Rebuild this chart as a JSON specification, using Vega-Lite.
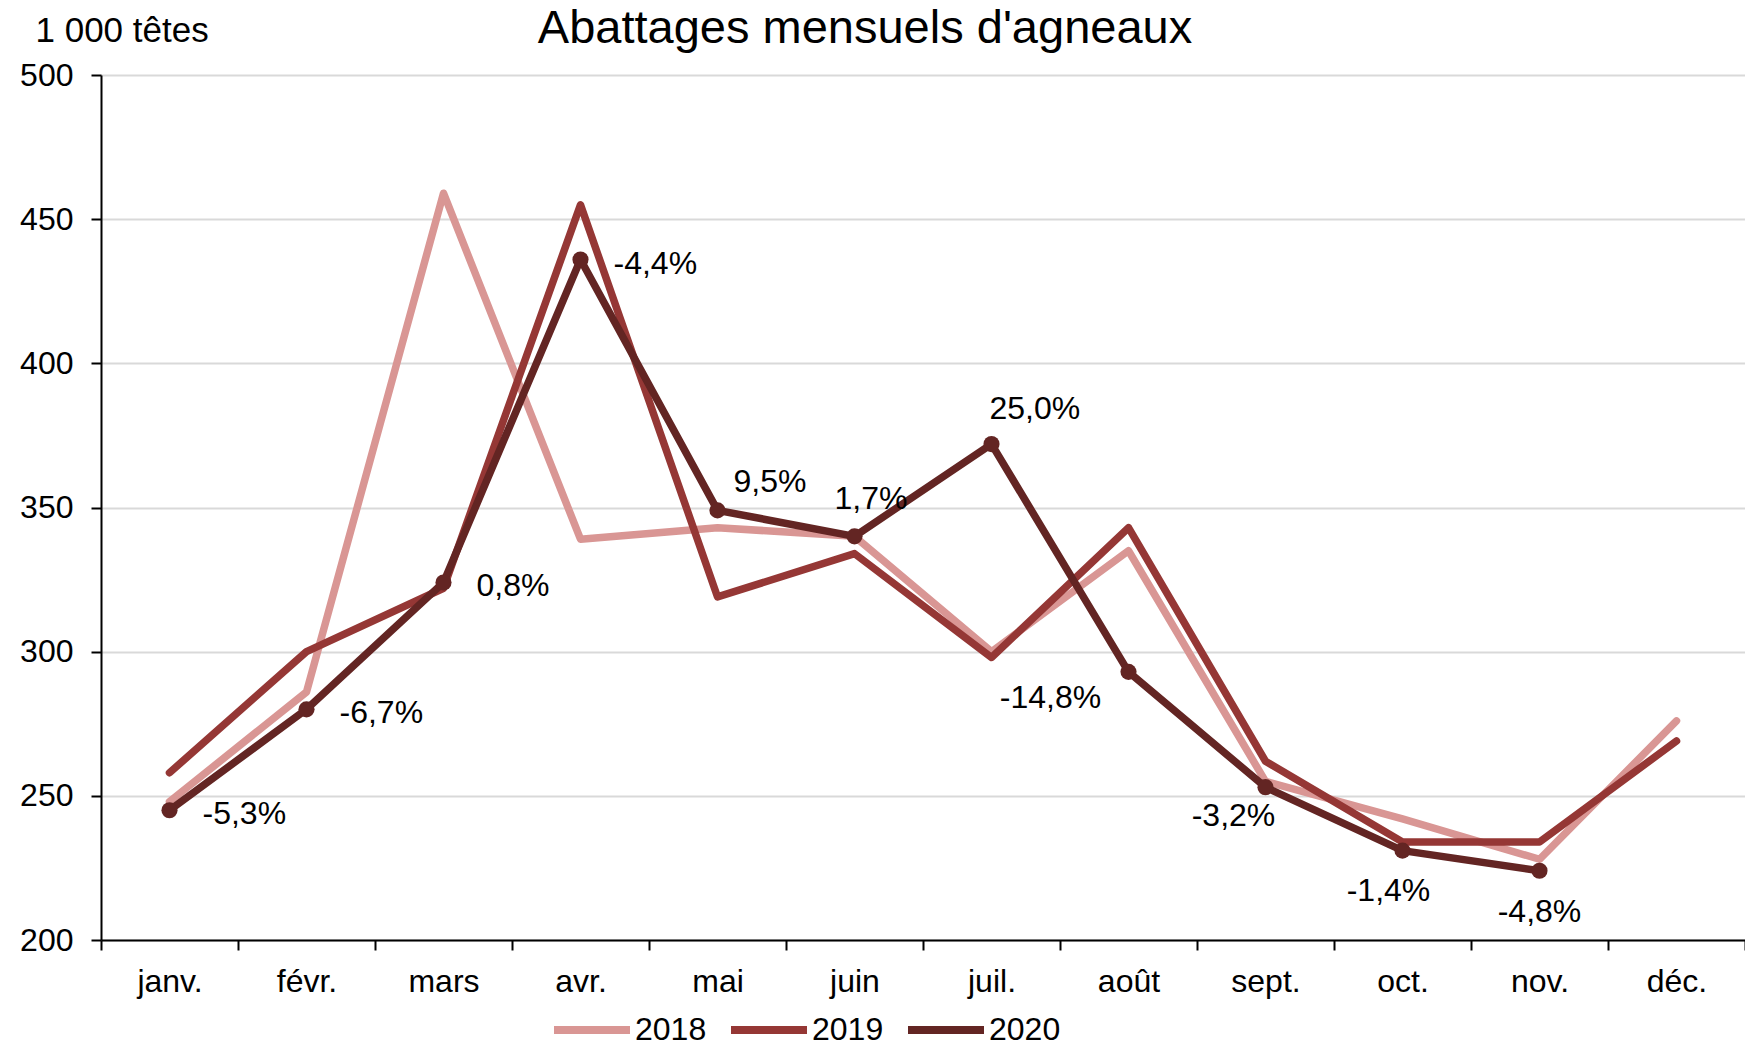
{
  "$schema": "https://vega.github.io/schema/vega-lite/v6.json",
  "autosize": {"type": "none"},
  "padding": {"left": 101, "top": 75, "right": 0, "bottom": 105},
  "width": 1644,
  "height": 865,
  "background": "white",
  "config": {"font": "Liberation Sans", "view": {"stroke": null}},
  "title": {"text": "Abattages mensuels d'agneaux", "fontSize": 47, "fontWeight": "normal", "color": "black", "anchor": "middle", "dx": -58, "offset": -40},
  "data": {"values": [
    {"mois": "janv.", "annee": "2018", "valeur": 248},
    {"mois": "févr.", "annee": "2018", "valeur": 286},
    {"mois": "mars", "annee": "2018", "valeur": 459},
    {"mois": "avr.", "annee": "2018", "valeur": 339},
    {"mois": "mai", "annee": "2018", "valeur": 343},
    {"mois": "juin", "annee": "2018", "valeur": 340},
    {"mois": "juil.", "annee": "2018", "valeur": 300},
    {"mois": "août", "annee": "2018", "valeur": 335},
    {"mois": "sept.", "annee": "2018", "valeur": 255},
    {"mois": "oct.", "annee": "2018", "valeur": 242},
    {"mois": "nov.", "annee": "2018", "valeur": 228},
    {"mois": "déc.", "annee": "2018", "valeur": 276},
    {"mois": "janv.", "annee": "2019", "valeur": 258},
    {"mois": "févr.", "annee": "2019", "valeur": 300},
    {"mois": "mars", "annee": "2019", "valeur": 322},
    {"mois": "avr.", "annee": "2019", "valeur": 455},
    {"mois": "mai", "annee": "2019", "valeur": 319},
    {"mois": "juin", "annee": "2019", "valeur": 334},
    {"mois": "juil.", "annee": "2019", "valeur": 298},
    {"mois": "août", "annee": "2019", "valeur": 343},
    {"mois": "sept.", "annee": "2019", "valeur": 262},
    {"mois": "oct.", "annee": "2019", "valeur": 234},
    {"mois": "nov.", "annee": "2019", "valeur": 234},
    {"mois": "déc.", "annee": "2019", "valeur": 269},
    {"mois": "janv.", "annee": "2020", "valeur": 245, "variation": "-5,3%"},
    {"mois": "févr.", "annee": "2020", "valeur": 280, "variation": "-6,7%"},
    {"mois": "mars", "annee": "2020", "valeur": 324, "variation": "0,8%"},
    {"mois": "avr.", "annee": "2020", "valeur": 436, "variation": "-4,4%"},
    {"mois": "mai", "annee": "2020", "valeur": 349, "variation": "9,5%"},
    {"mois": "juin", "annee": "2020", "valeur": 340, "variation": "1,7%"},
    {"mois": "juil.", "annee": "2020", "valeur": 372, "variation": "25,0%"},
    {"mois": "août", "annee": "2020", "valeur": 293, "variation": "-14,8%"},
    {"mois": "sept.", "annee": "2020", "valeur": 253, "variation": "-3,2%"},
    {"mois": "oct.", "annee": "2020", "valeur": 231, "variation": "-1,4%"},
    {"mois": "nov.", "annee": "2020", "valeur": 224, "variation": "-4,8%"}
  ]},
  "encoding": {
    "x": {
      "field": "mois", "type": "ordinal",
      "sort": ["janv.", "févr.", "mars", "avr.", "mai", "juin", "juil.", "août", "sept.", "oct.", "nov.", "déc."],
      "scale": {"type": "band", "paddingInner": 0, "paddingOuter": 0},
      "bandPosition": 0.5,
      "axis": {"title": null, "labelAngle": 0, "labelFontSize": 32, "labelColor": "black", "tickBand": "extent", "tickSize": 10, "tickWidth": 2, "tickColor": "black", "domainColor": "black", "domainWidth": 2, "labelPadding": 16, "grid": false}
    },
    "y": {
      "field": "valeur", "type": "quantitative",
      "scale": {"domain": [200, 500]},
      "axis": {"values": [200, 250, 300, 350, 400, 450, 500], "title": "1 000 têtes", "titleAngle": 0, "titleX": -66, "titleY": -34, "titleAlign": "left", "titleBaseline": "alphabetic", "titleFontSize": 35, "titleFontWeight": "normal", "titleColor": "black", "labelFontSize": 32, "labelColor": "black", "labelPadding": 18, "tickSize": 10, "tickWidth": 2, "tickColor": "black", "domainColor": "black", "domainWidth": 2, "gridColor": "#D9D9D9", "gridWidth": 2}
    }
  },
  "layer": [
    {
      "mark": {"type": "line", "strokeWidth": 7.5, "strokeCap": "round", "strokeJoin": "round"},
      "encoding": {
        "color": {
          "field": "annee", "type": "nominal",
          "scale": {"domain": ["2018", "2019", "2020"], "range": ["#D99694", "#953735", "#632523"]},
          "legend": {"orient": "none", "legendX": 449, "legendY": 913, "direction": "horizontal", "title": null, "symbolType": "stroke", "symbolSize": 5776, "symbolStrokeWidth": 8, "labelFontSize": 32, "labelColor": "black", "labelOffset": 1, "columnPadding": 8}
        }
      }
    },
    {
      "transform": [{"filter": "datum.annee == '2020'"}],
      "mark": {"type": "point", "filled": true, "size": 260, "opacity": 1, "color": "#632523"},
      "encoding": {}
    },
    {
      "transform": [{"filter": "datum.annee == '2020' && indexof(['janv.','févr.','mars','avr.'], datum.mois) >= 0"}],
      "mark": {"type": "text", "align": "left", "baseline": "middle", "dx": 33, "dy": 4, "fontSize": 32, "color": "black"},
      "encoding": {"text": {"field": "variation"}}
    },
    {
      "transform": [{"filter": "datum.annee == '2020' && datum.mois == 'mai'"}],
      "mark": {"type": "text", "align": "left", "baseline": "middle", "dx": 16, "dy": -28, "fontSize": 32, "color": "black"},
      "encoding": {"text": {"field": "variation"}}
    },
    {
      "transform": [{"filter": "datum.annee == '2020' && datum.mois == 'juin'"}],
      "mark": {"type": "text", "align": "left", "baseline": "middle", "dx": -20, "dy": -37, "fontSize": 32, "color": "black"},
      "encoding": {"text": {"field": "variation"}}
    },
    {
      "transform": [{"filter": "datum.annee == '2020' && datum.mois == 'juil.'"}],
      "mark": {"type": "text", "align": "left", "baseline": "middle", "dx": -2, "dy": -35, "fontSize": 32, "color": "black"},
      "encoding": {"text": {"field": "variation"}}
    },
    {
      "transform": [{"filter": "datum.annee == '2020' && datum.mois == 'août'"}],
      "mark": {"type": "text", "align": "center", "baseline": "middle", "dx": -78, "dy": 26, "fontSize": 32, "color": "black"},
      "encoding": {"text": {"field": "variation"}}
    },
    {
      "transform": [{"filter": "datum.annee == '2020' && datum.mois == 'sept.'"}],
      "mark": {"type": "text", "align": "center", "baseline": "middle", "dx": -32, "dy": 29, "fontSize": 32, "color": "black"},
      "encoding": {"text": {"field": "variation"}}
    },
    {
      "transform": [{"filter": "datum.annee == '2020' && datum.mois == 'oct.'"}],
      "mark": {"type": "text", "align": "center", "baseline": "middle", "dx": -14, "dy": 40, "fontSize": 32, "color": "black"},
      "encoding": {"text": {"field": "variation"}}
    },
    {
      "transform": [{"filter": "datum.annee == '2020' && datum.mois == 'nov.'"}],
      "mark": {"type": "text", "align": "center", "baseline": "middle", "dx": 0, "dy": 41, "fontSize": 32, "color": "black"},
      "encoding": {"text": {"field": "variation"}}
    }
  ]
}
